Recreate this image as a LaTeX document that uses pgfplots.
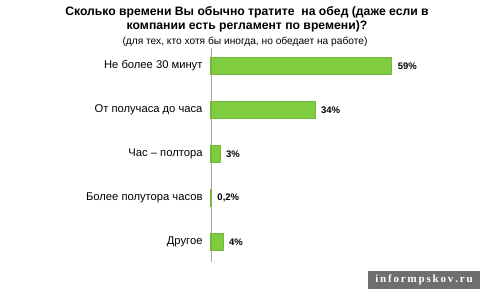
\documentclass[border=0pt]{standalone}
\usepackage{pgfplots}
\pgfplotsset{compat=1.18}
\usepackage{fontspec}
\setmainfont{Liberation Sans}
\newfontfamily\wmfont{Liberation Serif}
\definecolor{bargreen}{RGB}{128,204,64}
\definecolor{axgray}{RGB}{165,165,165}
\definecolor{wmgray}{RGB}{110,110,110}
\begin{document}
\begin{tikzpicture}[x=1bp,y=1bp]
\useasboundingbox (0,0) rectangle (480,289);
\node[font=\fontsize{12.2bp}{13.5bp}\selectfont\bfseries, align=center, anchor=north] at (247,285.5) {Сколько времени Вы обычно тратите \ на обед (даже если в\\компании есть регламент по времени)?};
\node[font=\fontsize{10.2bp}{12bp}\selectfont, anchor=north] at (245,256) {(для тех, кто хотя бы иногда, но обедает на работе)};
\begin{axis}[at={(211bp,27bp)}, anchor=south west, scale only axis,
  width=184bp, height=214bp,
  xmin=0, xmax=60, ymin=-0.41, ymax=4.45, y dir=reverse,
  axis x line=none, axis y line*=left,
  y axis line style={axgray, line width=0.8bp, -},
  ytick={0,1,2,3,4},
  yticklabels={Не более 30 минут, От получаса до часа, Час – полтора, Более полутора часов, Другое},
  major tick length=0pt,
  yticklabel style={font=\fontsize{11.2bp}{13bp}\selectfont, xshift=-5bp},
  xbar, bar width=16.5bp, bar shift=0pt,
  point meta=explicit symbolic,
  nodes near coords,
  nodes near coords style={font=\fontsize{9.5bp}{11bp}\selectfont\bfseries, anchor=west, xshift=2bp, black},
  clip=false]
\addplot[fill=bargreen, draw=bargreen!90!black, line width=1.1bp] coordinates {
  (59,0) [59\%]
  (34,1) [34\%]
  (3,2) [3\%]
  (0.2,3) [0,2\%]
  (4,4) [4\%]
};
\end{axis}
\fill[wmgray] (368,0) rectangle (480,18);
\node[font=\wmfont\fontsize{11bp}{12bp}\selectfont\bfseries, text=white, anchor=center] at (424,9) {i\,n\,f\,o\,r\,m\,p\,s\,k\,o\,v\,.\,r\,u};
\end{tikzpicture}
\end{document}
